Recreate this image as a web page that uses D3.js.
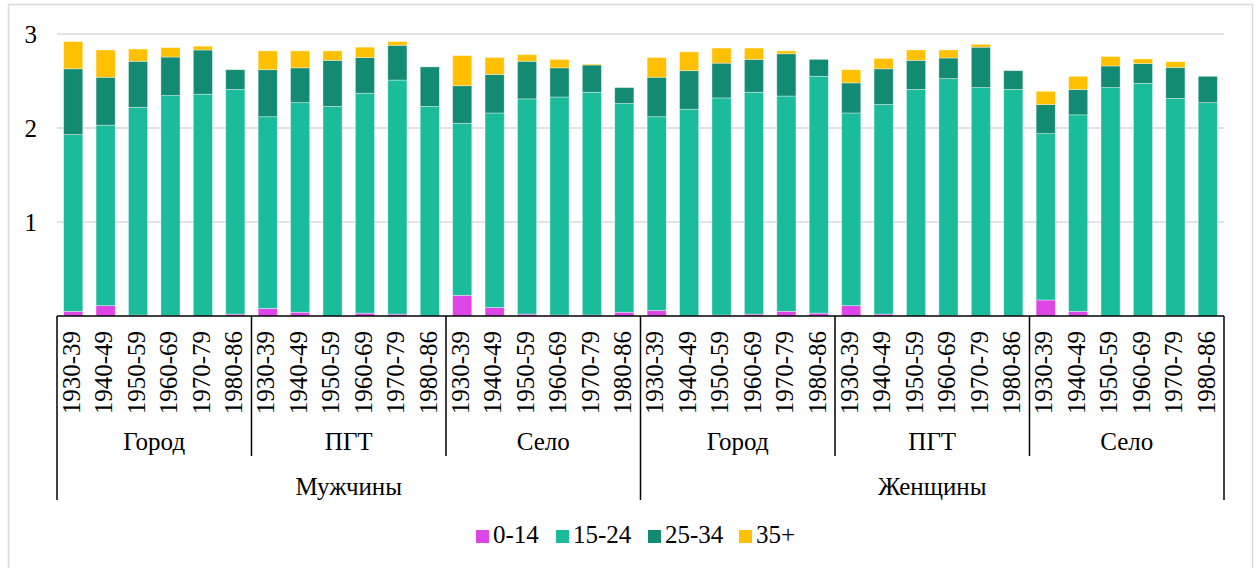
<!DOCTYPE html>
<html>
<head>
<meta charset="utf-8">
<script src="https://cdn.jsdelivr.net/npm/d3@7"></script>
<style>
	body{ margin:0; background:#fff; }
	svg text{ font-family:"Liberation Serif","Times New Roman","DejaVu Serif",serif; fill:#000; }
</style>
</head>
<body>
<svg id="chart" width="1258" height="568"></svg>
<script>
var periods = ["1930-39","1940-49","1950-59","1960-69","1970-79","1980-86"];
var settlements = ["Город","ПГТ","Село"];
var sexes = ["Мужчины","Женщины"];
var ageGroups = ["0-14","15-24","25-34","35+"];
var ageColors = ["#de45e6","#1abc9c","#138a72","#ffc000"];

// order: Мужчины (Город, ПГТ, Село), Женщины (Город, ПГТ, Село)
var age0_14 = [
	0.05,0.11,0.01,0.005,0,0.02,
	0.08,0.04,0,0.03,0.02,0,
	0.22,0.09,0.02,0.01,0.01,0.04,
	0.06,0,0.01,0.02,0.05,0.03,
	0.11,0.02,0,0.005,0,0,
	0.17,0.05,0,0.005,0.005,0
];
var age15_24 = [
	1.88,1.92,2.21,2.34,2.36,2.39,
	2.04,2.23,2.23,2.34,2.49,2.23,
	1.83,2.07,2.29,2.32,2.37,2.22,
	2.06,2.20,2.31,2.36,2.29,2.52,
	2.05,2.23,2.41,2.52,2.43,2.41,
	1.77,2.09,2.43,2.47,2.31,2.27
];
var age25_34 = [
	0.70,0.51,0.49,0.41,0.47,0.21,
	0.50,0.37,0.49,0.38,0.37,0.42,
	0.40,0.41,0.40,0.31,0.29,0.17,
	0.42,0.41,0.37,0.35,0.45,0.18,
	0.32,0.38,0.31,0.22,0.43,0.20,
	0.31,0.27,0.23,0.21,0.33,0.28
];
var age35plus = [
	0.29,0.29,0.13,0.10,0.04,0,
	0.20,0.18,0.10,0.11,0.04,0,
	0.32,0.18,0.07,0.09,0.01,0,
	0.21,0.20,0.16,0.12,0.03,0,
	0.14,0.11,0.11,0.085,0.03,0,
	0.14,0.14,0.10,0.05,0.06,0
];
var yTicks = [1,2,3];

var serif = "'Liberation Serif','Times New Roman','DejaVu Serif',serif";

var rows = age15_24.map(function(d, i){
	return {
		idx: i,
		period: periods[i % periods.length],
		"0-14": age0_14[i],
		"15-24": age15_24[i],
		"25-34": age25_34[i],
		"35+": age35plus[i]
	};
});

var svg = d3.select("#chart");
var plotLeft = 57, plotRight = 1224, plotTop = 34, plotBottom = 316;

// outer frame
svg.append("rect")
	.attr("x", 8.5).attr("y", 4.5)
	.attr("width", 1244).attr("height", 570)
	.attr("fill", "none").attr("stroke", "#d9d9d9").attr("stroke-width", 1.5);

var x = d3.scaleBand()
	.domain(rows.map(function(d){ return d.idx; }))
	.range([plotLeft, plotRight])
	.paddingInner(0.41)
	.paddingOuter(0.205);

var y = d3.scaleLinear().domain([0, 3]).range([plotBottom, plotTop]);

// gridlines
svg.append("g")
	.selectAll("line")
	.data(yTicks)
	.enter().append("line")
	.attr("x1", plotLeft).attr("x2", plotRight)
	.attr("y1", function(d){ return y(d); })
	.attr("y2", function(d){ return y(d); })
	.attr("stroke", "#d9d9d9").attr("stroke-width", 1.5);

var yAxis = svg.append("g")
	.attr("transform", "translate(" + (plotLeft - 20) + ",0)")
	.call(d3.axisLeft(y).tickValues(yTicks).tickSize(0).tickPadding(0).tickFormat(d3.format("d")));
yAxis.attr("font-family", null);
yAxis.select(".domain").remove();
yAxis.selectAll("text")
	.style("font-family", serif)
	.style("font-size", "25px")
	.attr("fill", "#000");

var stack = d3.stack().keys(ageGroups);
var series = stack(rows);

svg.append("g")
	.selectAll("g")
	.data(series)
	.enter().append("g")
	.attr("fill", function(d, i){ return ageColors[i]; })
	.selectAll("rect")
	.data(function(d){ return d; })
	.enter().append("rect")
	.attr("x", function(d){ return x(d.data.idx); })
	.attr("width", x.bandwidth())
	.attr("y", function(d){ return y(d[1]); })
	.attr("height", function(d){ return y(d[0]) - y(d[1]); })
	.attr("stroke", "rgba(255,255,255,0.45)")
	.attr("stroke-width", 0.8);

// category axis
var xAxis = svg.append("g")
	.attr("transform", "translate(0," + plotBottom + ")")
	.call(d3.axisBottom(x).tickSize(0).tickFormat(function(i){ return rows[i].period; }));
xAxis.attr("font-family", null);
xAxis.select(".domain")
	.attr("stroke", "#000").attr("stroke-width", 1.5)
	.attr("d", "M" + plotLeft + ",0H" + plotRight);
xAxis.selectAll("text")
	.style("font-family", serif)
	.style("font-size", "25px")
	.attr("fill", "#000")
	.attr("transform", "rotate(-90)")
	.attr("x", -15).attr("y", -2)
	.attr("dy", "0.35em")
	.style("text-anchor", "end");

var step = x.step();
var groupW = step * periods.length;

// separator lines
var seps = d3.range(0, settlements.length * sexes.length + 1);
svg.append("g")
	.selectAll("line")
	.data(seps)
	.enter().append("line")
	.attr("x1", function(d){ return plotLeft + d * groupW; })
	.attr("x2", function(d){ return plotLeft + d * groupW; })
	.attr("y1", plotBottom)
	.attr("y2", function(d){ return d % settlements.length === 0 ? 500 : 456; })
	.attr("stroke", "#000").attr("stroke-width", 1.5);

// settlement labels
var subGroups = d3.range(settlements.length * sexes.length);
svg.append("g")
	.selectAll("text")
	.data(subGroups)
	.enter().append("text")
	.attr("x", function(d){ return plotLeft + (d + 0.5) * groupW; })
	.attr("y", 450)
	.attr("text-anchor", "middle")
	.style("font-family", serif)
	.style("font-size", "25px")
	.text(function(d){ return settlements[d % settlements.length]; });

// sex labels
svg.append("g")
	.selectAll("text")
	.data(sexes)
	.enter().append("text")
	.attr("x", function(d, i){ return plotLeft + (i + 0.5) * groupW * settlements.length; })
	.attr("y", 495)
	.attr("text-anchor", "middle")
	.style("font-family", serif)
	.style("font-size", "25px")
	.text(function(d){ return d; });

// legend
var legendX = [476, 556, 648, 739];
var legend = svg.append("g")
	.selectAll("g")
	.data(ageGroups)
	.enter().append("g")
	.attr("transform", function(d, i){ return "translate(" + legendX[i] + ",530)"; });
legend.append("rect")
	.attr("width", 13).attr("height", 13)
	.attr("fill", function(d, i){ return ageColors[i]; });
legend.append("text")
	.attr("x", 17).attr("y", 13)
	.style("font-family", serif)
	.style("font-size", "25px")
	.text(function(d){ return d; });
</script>
</body>
</html>
